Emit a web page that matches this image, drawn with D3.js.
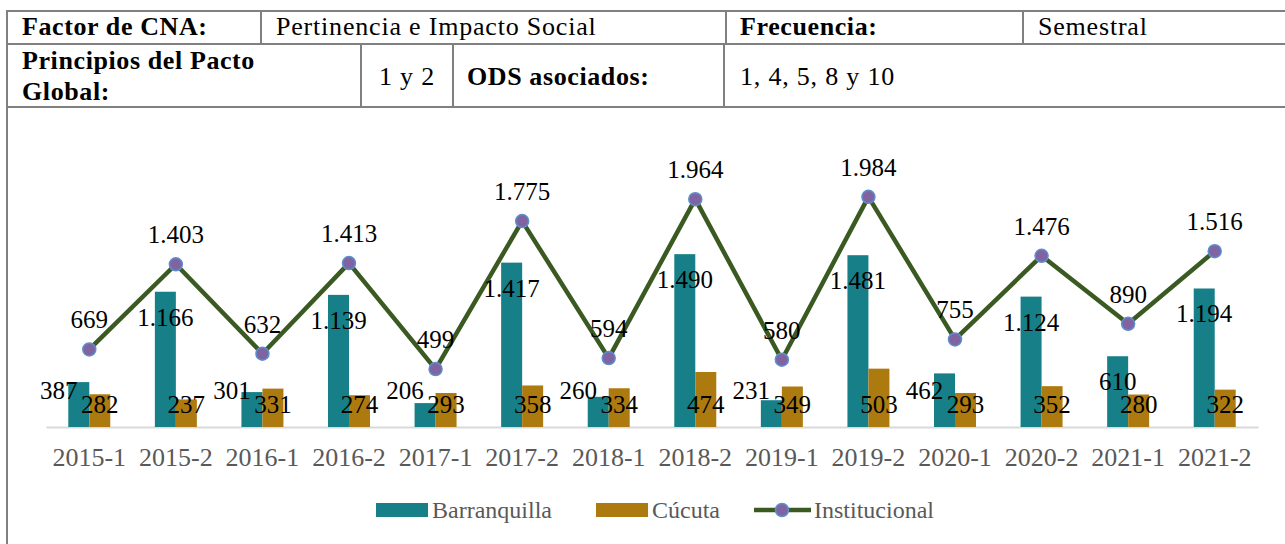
<!DOCTYPE html>
<html>
<head>
<meta charset="utf-8">
<script src="https://cdn.jsdelivr.net/npm/d3@7"></script>
<style>
  body { margin: 0; background: #fff; }
  svg { display: block; font-family: "Liberation Serif", serif; }
</style>
</head>
<body>
<svg id="chart" width="1285" height="544"></svg>
<script>
const periods = ["2015-1", "2015-2", "2016-1", "2016-2", "2017-1", "2017-2", "2018-1",
  "2018-2", "2019-1", "2019-2", "2020-1", "2020-2", "2021-1", "2021-2"];
const barranquilla = [387, 1166, 301, 1139, 206, 1417, 260, 1490, 231, 1481, 462, 1124, 610, 1194];
const cucuta = [282, 237, 331, 274, 293, 358, 334, 474, 349, 503, 293, 352, 280, 322];
const institucional = [669, 1403, 632, 1413, 499, 1775, 594, 1964, 580, 1984, 755, 1476, 890, 1516];
const seriesNames = ["Barranquilla", "Cúcuta", "Institucional"];

const svg = d3.select("svg#chart");
const fmt = d3.formatLocale({ decimal: ",", thousands: ".", grouping: [3] }).format(",d");

// ---- header table ----
const header = svg.append("g").attr("id", "header");
const border = "#808080";
const hline = (x1, x2, y) => header.append("line").attr("x1", x1).attr("x2", x2)
  .attr("y1", y).attr("y2", y).attr("stroke", border).attr("stroke-width", 2);
const vline = (x, y1, y2) => header.append("line").attr("x1", x).attr("x2", x)
  .attr("y1", y1).attr("y2", y2).attr("stroke", border).attr("stroke-width", 2);
hline(6, 1285, 11);
hline(6, 1285, 44);
hline(6, 1285, 107);
vline(7, 10, 544);
[261, 726, 1023].forEach((x) => vline(x, 11, 44));
[361, 453, 724].forEach((x) => vline(x, 44, 107));

const cell = (txt, x, y, bold, anchor) => header.append("text")
  .attr("x", x).attr("y", y)
  .attr("text-anchor", anchor || "start")
  .attr("font-size", 26)
  .attr("font-weight", bold ? "bold" : "normal")
  .attr("letter-spacing", bold ? 0.6 : 0.8)
  .attr("fill", "#000")
  .text(txt);
cell("Factor de CNA:", 22, 35, true);
cell("Pertinencia e Impacto Social", 276, 35, false);
cell("Frecuencia:", 740, 35, true);
cell("Semestral", 1038, 35, false);
cell("Principios del Pacto", 22, 69, true);
cell("Global:", 22, 100, true);
cell("1 y 2", 407, 85, false, "middle");
cell("ODS asociados:", 467, 85, true);
cell("1, 4, 5, 8 y 10", 740, 85, false);

// ---- chart ----
const plot = { left: 46, right: 1258, top: 137, bottom: 427 };
const x0 = d3.scaleBand().domain(periods).range([plot.left, plot.right])
  .paddingInner(0.515).paddingOuter(0.2575);
const x1 = d3.scaleBand().domain(seriesNames.slice(0, 2)).range([0, x0.bandwidth()]);
const xc = (p) => x0(p) + x0.bandwidth() / 2;
const y = d3.scaleLinear().domain([0, 2500]).range([plot.bottom, plot.top]);

const colors = { Barranquilla: "#167f87", "Cúcuta": "#ad7a10", line: "#3a5a22", marker: "#8064a2", markerStroke: "#5b8fd0" };

const rows = periods.map((p, i) => ({ p, b: barranquilla[i], c: cucuta[i], t: institucional[i] }));

const xAxis = d3.axisBottom(x0).tickSize(0).tickPadding(0);
const axisG = svg.append("g").attr("transform", `translate(0,${plot.bottom})`).call(xAxis);
axisG.select(".domain").attr("stroke", "#d9d9d9").attr("stroke-width", 2);
axisG.selectAll("text").attr("font-family", "Liberation Serif").attr("font-size", 26)
  .attr("fill", "#595959").attr("dy", 0).attr("y", 39);

const bars = svg.append("g");
bars.selectAll("rect.b").data(rows).join("rect").attr("class", "b")
  .attr("x", (d) => x0(d.p) + x1("Barranquilla")).attr("width", x1.bandwidth())
  .attr("y", (d) => y(d.b)).attr("height", (d) => y(0) - y(d.b))
  .attr("fill", colors.Barranquilla);
bars.selectAll("rect.c").data(rows).join("rect").attr("class", "c")
  .attr("x", (d) => x0(d.p) + x1("Cúcuta")).attr("width", x1.bandwidth())
  .attr("y", (d) => y(d.c)).attr("height", (d) => y(0) - y(d.c))
  .attr("fill", colors["Cúcuta"]);

const line = d3.line((d) => xc(d.p), (d) => y(d.t));
svg.append("path").datum(rows).attr("d", line).attr("fill", "none")
  .attr("stroke", colors.line).attr("stroke-width", 4.5).attr("stroke-linejoin", "round");
svg.append("g").selectAll("circle").data(rows).join("circle")
  .attr("cx", (d) => xc(d.p)).attr("cy", (d) => y(d.t)).attr("r", 6.5)
  .attr("fill", colors.marker).attr("stroke", colors.markerStroke).attr("stroke-width", 1.5);

// data labels
const labels = svg.append("g").attr("font-size", 25).attr("fill", "#000").attr("text-anchor", "middle");
labels.selectAll("text.b").data(rows).join("text").attr("class", "b")
  .attr("x", (d) => {
    const cx = x0(d.p) + x1("Barranquilla") + x1.bandwidth() / 2;
    return y(d.b) + 34 > 399 ? cx - 20 : cx;
  })
  .attr("y", (d) => Math.min(y(d.b) + 34, 399))
  .text((d) => fmt(d.b));
labels.selectAll("text.c").data(rows).join("text").attr("class", "c")
  .attr("x", (d) => x0(d.p) + x1("Cúcuta") + x1.bandwidth() / 2)
  .attr("y", plot.bottom - 14)
  .text((d) => fmt(d.c));
labels.selectAll("text.t").data(rows).join("text").attr("class", "t")
  .attr("x", (d) => xc(d.p)).attr("y", (d) => y(d.t) - 21)
  .text((d) => fmt(d.t));

// legend
const legend = svg.append("g").attr("font-size", 24).attr("fill", "#595959");
legend.append("rect").attr("x", 376).attr("y", 503).attr("width", 52).attr("height", 14).attr("fill", colors.Barranquilla);
legend.append("text").attr("x", 432).attr("y", 518).text(seriesNames[0]);
legend.append("rect").attr("x", 596).attr("y", 503).attr("width", 52).attr("height", 14).attr("fill", colors["Cúcuta"]);
legend.append("text").attr("x", 652).attr("y", 518).text(seriesNames[1]);
legend.append("line").attr("x1", 754).attr("x2", 811).attr("y1", 510).attr("y2", 510)
  .attr("stroke", colors.line).attr("stroke-width", 4.5);
legend.append("circle").attr("cx", 782).attr("cy", 510).attr("r", 6.5)
  .attr("fill", colors.marker).attr("stroke", colors.markerStroke).attr("stroke-width", 1.5);
legend.append("text").attr("x", 814).attr("y", 518).text(seriesNames[2]);
</script>
</body>
</html>
